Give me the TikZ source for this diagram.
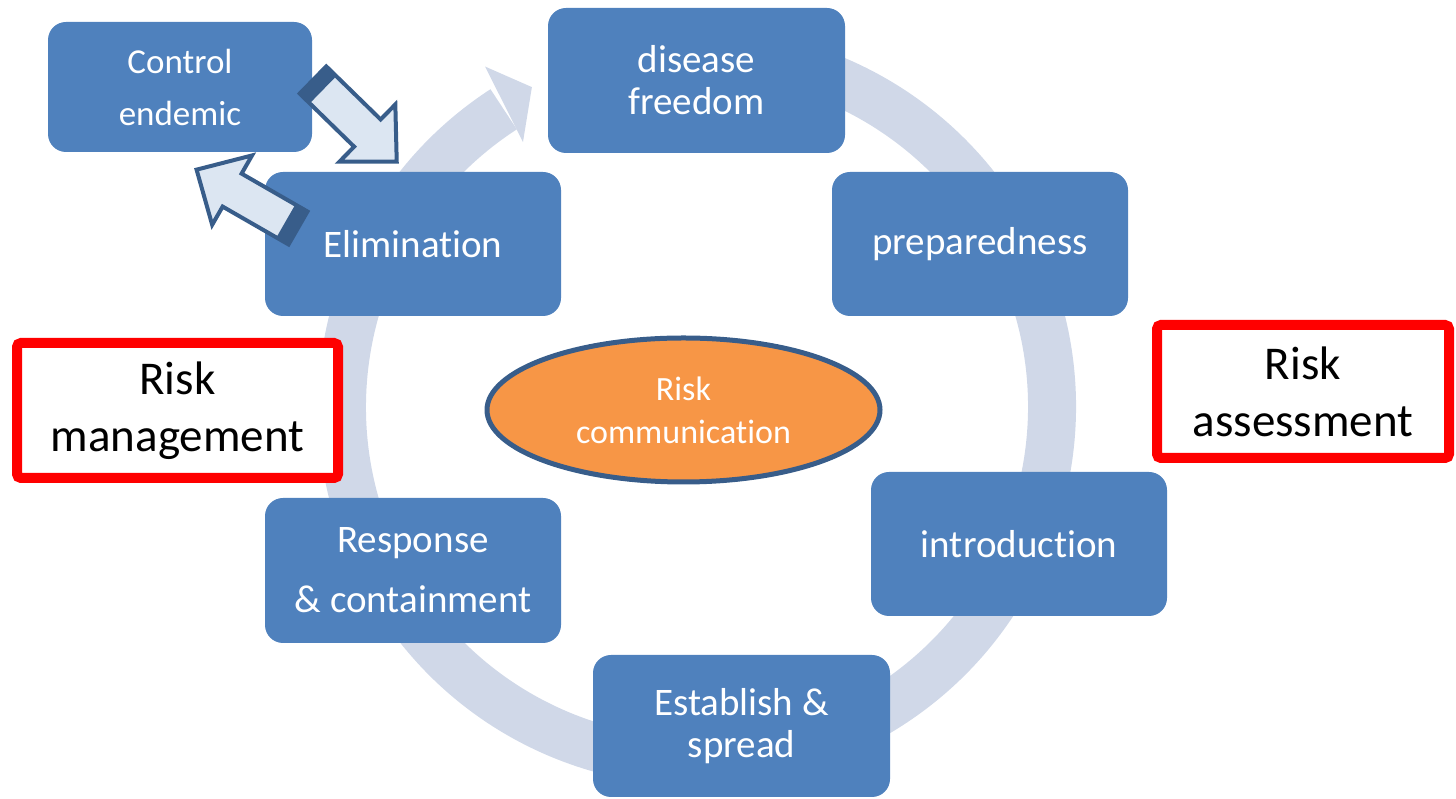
\documentclass[tikz,border=0pt]{standalone}
\usepackage{fontspec}
\setmainfont{Carlito}[Ligatures=NoCommon]
\usetikzlibrary{shapes.geometric}

\definecolor{boxblue}{HTML}{4F81BD}
\definecolor{ringgray}{HTML}{D0D8E8}
\definecolor{darkblue}{HTML}{385D8A}
\definecolor{paleblue}{HTML}{DCE6F2}
\definecolor{commorange}{HTML}{F79646}

\tikzset{
 stage/.style={fill=boxblue, text=white, rounded corners=18pt, minimum width=296pt,
  minimum height=144pt, inner sep=0pt, align=center, font=\fontsize{39}{42}\selectfont},
 riskbox/.style={draw=red, line width=10pt, fill=white, rounded corners=4pt, inner sep=0pt,
  align=center, font=\fontsize{47}{57}\selectfont},
 ring/.style={draw=ringgray, line width=48pt},
 arrowbody/.style={fill=paleblue},
 arrowband/.style={fill=darkblue},
 arrowedge/.style={draw=darkblue, line width=4pt, line join=miter},
}

% block arrow: tail at (#1,#2), pointing at angle #3
\newcommand{\blockarrow}[3]{%
 \begin{scope}[shift={(#1,#2)}, rotate=#3]
  \fill[arrowbody] (0,-19) -- (76,-19) -- (76,-40) -- (117,0) -- (76,40) -- (76,19) -- (0,19) -- cycle;
  \fill[arrowband] (0,-19) rectangle (14,19); %dark tail end
  \draw[arrowedge] (0,-19) -- (76,-19) -- (76,-40) -- (117,0) -- (76,40) -- (76,19) -- (0,19) -- cycle;
 \end{scope}}

\begin{document}
\begin{tikzpicture}[x=1pt, y=1pt]
 \useasboundingbox (0,0) rectangle (1456,799);
 \coordinate (C) at (697,392); %centre of the cycle

 % cycle ring with its head
 \draw[ring] (C) ++(123:355) arc[start angle=123, end angle=430, radius=355pt];
 \begin{scope}[shift={(C)}]
  \fill[ringgray] (121.9:401) -- (117.3:360) -- (123.3:317) -- cycle;
 \end{scope}

 % stages
 \node[stage, minimum width=264pt, minimum height=130pt, font=\fontsize{35}{52}\selectfont]
  (control) at (180,712) {Control\\endemic};
 \node[stage, minimum width=297pt, minimum height=145pt] (freedom) at (696.5,718.5) {disease\\freedom};
 \node[stage] (elim) at (413,555) {Elimination};
 \node[stage] (prep) at (980,555) {preparedness};
 \node[stage] (intro) at (1019,255) {introduction};
 \node[stage, minimum width=297pt, minimum height=142pt] (spread) at (741.5,73) {Establish \&\\spread};
 \node[stage, minimum height=145pt, font=\fontsize{39}{60}\selectfont]
  (response) at (413,228.5) {Response\\\& containment};

 % centre
 \node[ellipse, draw=darkblue, line width=5pt, fill=commorange, text=white, minimum width=393pt,
  minimum height=144pt, inner sep=0pt, align=center, font=\fontsize{34}{43}\selectfont]
  (comm) at (683.5,389) {Risk\\communication};

 % risk labels
 \node[riskbox, minimum width=321pt, minimum height=135pt] (mgmt) at (177.5,388.5) {Risk\\management};
 \node[riskbox, minimum width=292pt, minimum height=133pt] (assess) at (1303,407.5) {Risk\\assessment};

 % arrows between control and elimination
 \blockarrow{313}{719}{-44.3}
 \blockarrow{298}{571}{150.1}
\end{tikzpicture}
\end{document}
